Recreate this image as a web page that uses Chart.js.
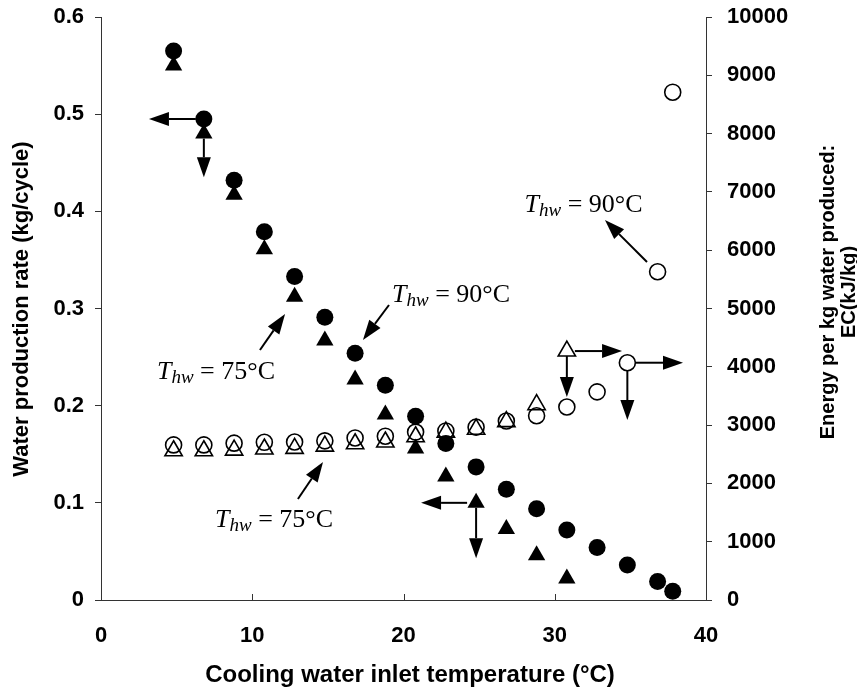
<!DOCTYPE html>
<html>
<head>
<meta charset="utf-8">
<script src="https://cdn.jsdelivr.net/npm/chart.js@4/dist/chart.umd.min.js"></script>
<style>
  html, body { margin: 0; padding: 0; background: #fff; }
  #wrap { width: 857px; height: 693px; position: relative; }
</style>
</head>
<body>
<div id="wrap"><canvas id="chart"></canvas></div>
<script>
// === data ===
// cooling water inlet temperature (°C)
const temps = [4.8, 6.8, 8.8, 10.8, 12.8, 14.8, 16.8, 18.8, 20.8, 22.8, 24.8, 26.8, 28.8, 30.8, 32.8, 34.8, 36.8, 37.8];
// water production rate (kg/cycle)
const rate90 = [0.565, 0.495, 0.432, 0.379, 0.333, 0.291, 0.254, 0.221, 0.189, 0.161, 0.137, 0.114, 0.094, 0.072, 0.054, 0.036, 0.019, 0.009];
const rate75 = [0.550, 0.480, 0.417, 0.361, 0.312, 0.267, 0.227, 0.191, 0.156, 0.127, 0.100, 0.073, 0.046, 0.022];
// energy per kg water produced (kJ/kg)
const energy90 = [2660, 2660, 2690, 2705, 2710, 2730, 2780, 2810, 2880, 2900, 2965, 3070, 3160, 3310, 3570, 4070, 5630, 8710];
const energy75 = [2560, 2560, 2570, 2590, 2600, 2640, 2680, 2710, 2800, 2880, 2930, 3060, 3350, 4270];

// tick labels
const xTicks = [0, 10, 20, 30, 40];
const rateTicks = [0, 0.1, 0.2, 0.3, 0.4, 0.5, 0.6];
const energyTicks = [0, 1000, 2000, 3000, 4000, 5000, 6000, 7000, 8000, 9000, 10000];

// annotations (data units; axis tells which y scale)
const arrows = [
  { axis: "y",  from: [6.8, 0.495],  to: [3.17, 0.495],  gap: 8 },
  { axis: "y",  from: [6.8, 0.480],  to: [6.8, 0.435],   gap: 5 },
  { axis: "y",  from: [24.8, 0.100], to: [21.16, 0.100], gap: 9 },
  { axis: "y",  from: [24.8, 0.100], to: [24.8, 0.043],  gap: 5 },
  { axis: "y1", from: [30.8, 4270],  to: [34.45, 4270],  gap: 8 },
  { axis: "y1", from: [30.8, 4270],  to: [30.8, 3482],   gap: 5 },
  { axis: "y1", from: [34.8, 4070],  to: [38.48, 4070],  gap: 8 },
  { axis: "y1", from: [34.8, 4070],  to: [34.8, 3087],   gap: 8 },
  { axis: "y1", from: [36.1, 5798],  to: [33.32, 6518],  gap: 0 },
  { axis: "y",  from: [19.04, 0.3036], to: [17.32, 0.2676], gap: 0 },
  { axis: "y",  from: [10.51, 0.2573], to: [12.17, 0.2943], gap: 0 },
  { axis: "y1", from: [13.02, 1732], to: [14.68, 2367],  gap: 0 }
];
const labels = [
  { axis: "y1", at: [28.0, 6655],  temp: "90" },
  { axis: "y",  at: [19.24, 0.3067], temp: "90" },
  { axis: "y",  at: [3.70, 0.2274],  temp: "75" },
  { axis: "y1", at: [7.54, 1252],  temp: "75" }
];

const pts = (xs, ys) => ys.map((v, i) => ({ x: xs[i], y: v }));

const tickFont = { family: "'Liberation Sans', Arial, sans-serif", size: 22, weight: "bold" };
const axisColor = "#333";

function drawArrow(ctx, x1, y1, x2, y2, gap) {
  const ang = Math.atan2(y2 - y1, x2 - x1);
  const sx = x1 + Math.cos(ang) * gap, sy = y1 + Math.sin(ang) * gap;
  const head = 20, half = 7;
  const bx = x2 - Math.cos(ang) * head, by = y2 - Math.sin(ang) * head;
  ctx.beginPath();
  ctx.moveTo(sx, sy);
  ctx.lineTo(bx, by);
  ctx.stroke();
  ctx.beginPath();
  ctx.moveTo(x2, y2);
  ctx.lineTo(bx + Math.sin(ang) * half, by - Math.cos(ang) * half);
  ctx.lineTo(bx - Math.sin(ang) * half, by + Math.cos(ang) * half);
  ctx.closePath();
  ctx.fill();
}

function drawThw(ctx, x, y, temp) {
  ctx.textAlign = "left";
  ctx.textBaseline = "alphabetic";
  ctx.font = "italic 26px 'Liberation Serif', serif";
  ctx.fillText("T", x, y);
  x += ctx.measureText("T").width;
  ctx.font = "italic 19px 'Liberation Serif', serif";
  ctx.fillText("hw", x, y + 4);
  x += ctx.measureText("hw").width;
  ctx.font = "26px 'Liberation Serif', serif";
  ctx.fillText(" = " + temp + "°C", x, y);
}

// keep the plot box fixed: no extra room for the end labels
function noPad(s) {
  s.paddingTop = 0; s.paddingBottom = 0;
  s.paddingLeft = 0; s.paddingRight = 0;
}

const extras = {
  id: "extras",
  afterDraw(chart) {
    const ctx = chart.ctx;
    const sx = chart.scales.x;
    const area = chart.chartArea;
    ctx.save();
    // inward tick marks on the x axis
    ctx.strokeStyle = axisColor;
    ctx.lineWidth = 1;
    xTicks.forEach(v => {
      const px = Math.round(sx.getPixelForValue(v)) + 0.5;
      ctx.beginPath();
      ctx.moveTo(px, area.bottom);
      ctx.lineTo(px, area.bottom - 6);
      ctx.stroke();
    });
    // arrows
    ctx.strokeStyle = "#000";
    ctx.fillStyle = "#000";
    ctx.lineWidth = 2;
    arrows.forEach(a => {
      const ys = chart.scales[a.axis];
      drawArrow(ctx,
        sx.getPixelForValue(a.from[0]), ys.getPixelForValue(a.from[1]),
        sx.getPixelForValue(a.to[0]), ys.getPixelForValue(a.to[1]), a.gap);
    });
    // T_hw labels
    labels.forEach(l => {
      const ys = chart.scales[l.axis];
      drawThw(ctx, sx.getPixelForValue(l.at[0]), ys.getPixelForValue(l.at[1]), l.temp);
    });
    // axis titles
    ctx.textAlign = "center";
    ctx.textBaseline = "middle";
    ctx.font = "bold 24px 'Liberation Sans', Arial, sans-serif";
    ctx.fillText("Cooling water inlet temperature (°C)", 410, 675);
    ctx.font = "bold 22px 'Liberation Sans', Arial, sans-serif";
    ctx.save();
    ctx.translate(22, 309);
    ctx.rotate(-Math.PI / 2);
    ctx.fillText("Water production rate (kg/cycle)", 0, 0);
    ctx.restore();
    ctx.font = "bold 20px 'Liberation Sans', Arial, sans-serif";
    ctx.save();
    ctx.translate(828, 292);
    ctx.rotate(-Math.PI / 2);
    ctx.fillText("Energy per kg water produced:", 0, 0);
    ctx.fillText("EC(kJ/kg)", 0, 21);
    ctx.restore();
    ctx.restore();
  }
};

new Chart(document.getElementById("chart"), {
  type: "scatter",
  data: {
    datasets: [
      { label: "rate 90", data: pts(temps, rate90), yAxisID: "y", order: 3,
        pointStyle: "circle", pointRadius: 8.5, backgroundColor: "#000", borderColor: "#000", borderWidth: 0 },
      { label: "rate 75", data: pts(temps, rate75), yAxisID: "y", order: 2,
        pointStyle: "triangle", pointRadius: 10, backgroundColor: "#000", borderColor: "#000", borderWidth: 0 },
      { label: "EC 90", data: pts(temps, energy90), yAxisID: "y1", order: 1,
        pointStyle: "circle", pointRadius: 8, backgroundColor: "rgba(255,255,255,0)", borderColor: "#000", borderWidth: 1.6 },
      { label: "EC 75", data: pts(temps, energy75), yAxisID: "y1", order: 0,
        pointStyle: "triangle", pointRadius: 10, backgroundColor: "rgba(255,255,255,0)", borderColor: "#000", borderWidth: 1.6 }
    ]
  },
  options: {
    responsive: true,
    maintainAspectRatio: false,
    animation: false,
    devicePixelRatio: 1,
    layout: { padding: { top: 17, left: 0, right: 0, bottom: 0 } },
    plugins: { legend: { display: false }, tooltip: { enabled: false } },
    elements: { point: { hoverRadius: 8 } },
    scales: {
      x: {
        type: "linear", min: 0, max: 40,
        afterBuildTicks: s => { s.ticks = xTicks.map(v => ({ value: v })); },
        afterFit: s => { s.height = 93; noPad(s); },
        grid: { display: false, drawTicks: false },
        border: { display: true, color: axisColor, width: 1 },
        ticks: { font: tickFont, color: "#000", padding: 23 }
      },
      y: {
        position: "left", min: 0, max: 0.6,
        afterBuildTicks: s => { s.ticks = rateTicks.map(v => ({ value: v })); },
        afterFit: s => { s.width = 101; noPad(s); },
        grid: { drawOnChartArea: false, tickLength: 6, color: axisColor },
        border: { display: true, color: axisColor, width: 1 },
        ticks: { font: tickFont, color: "#000", padding: 11 }
      },
      y1: {
        position: "right", min: 0, max: 10000,
        afterBuildTicks: s => { s.ticks = energyTicks.map(v => ({ value: v })); },
        afterFit: s => { s.width = 151; noPad(s); },
        grid: { drawOnChartArea: false, tickLength: 6, color: axisColor },
        border: { display: true, color: axisColor, width: 1 },
        ticks: { font: tickFont, color: "#000", padding: 15, callback: v => String(v) }
      }
    }
  },
  plugins: [extras]
});
</script>
</body>
</html>
